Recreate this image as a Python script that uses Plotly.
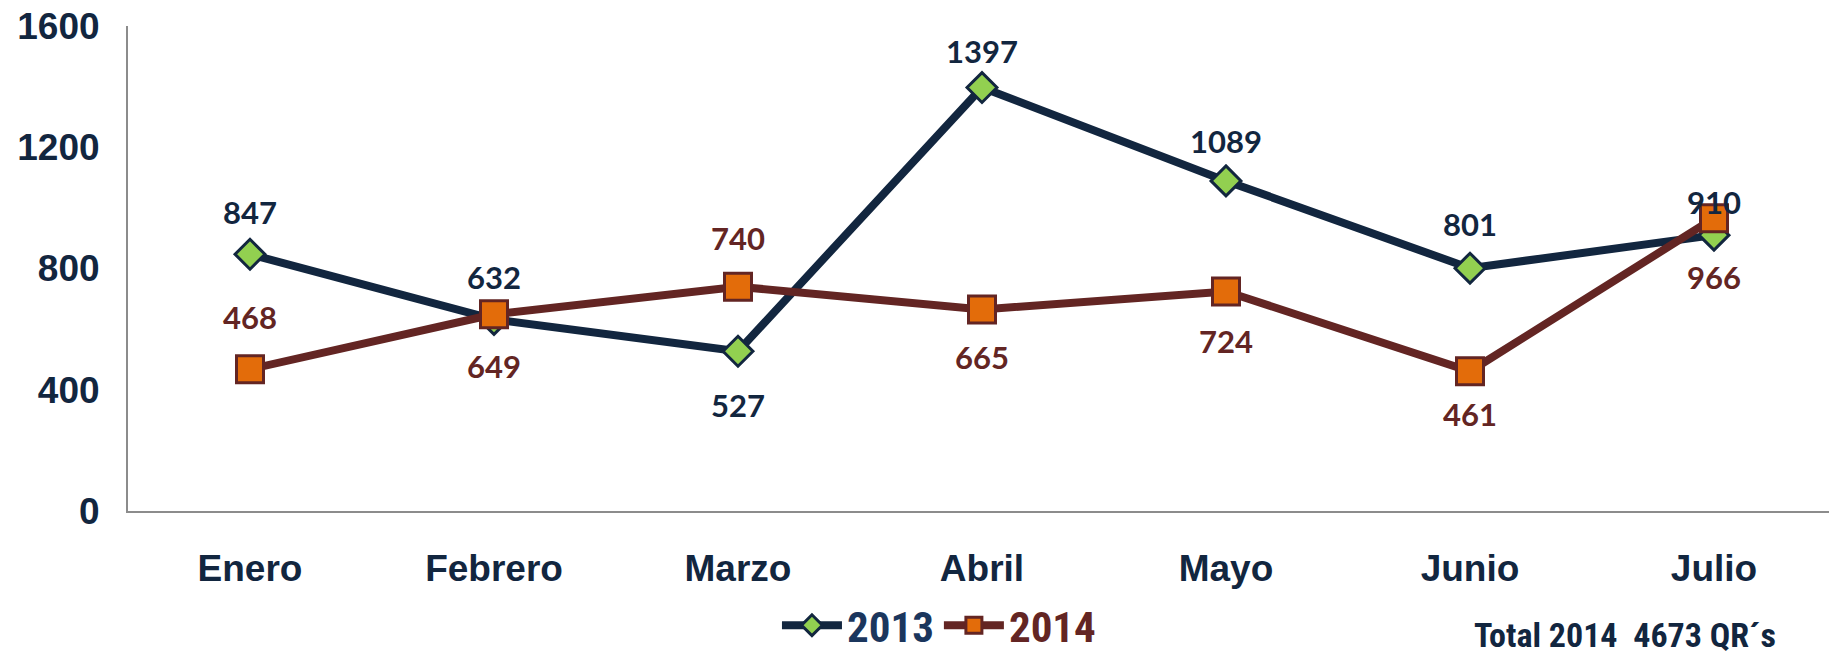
import plotly.graph_objects as go

# data
meses = ["Enero", "Febrero", "Marzo", "Abril", "Mayo", "Junio", "Julio"]
qr_2013 = [847, 632, 527, 1397, 1089, 801, 910]
qr_2014 = [468, 649, 740, 665, 724, 461, 966]
y_ticks = [0, 400, 800, 1200, 1600]
total_text = "Total 2014  4673 QR´s"

# label offsets in px (positive = above the point)
shift_2013 = [42, 42, -54, 37, 40, 44, 33]
shift_2014 = [52, -52, 49, -48, -49, -43, -59]

navy = "#12263F"
brown = "#632523"
narrow = "Liberation Sans Narrow, Roboto Condensed, Arial Narrow, Roboto, sans-serif"

fig = go.Figure()

fig.add_trace(go.Scatter(
    x=meses, y=qr_2013, mode="lines+markers",
    name="<span style='color:#1B365D'>2013</span>",
    line=dict(color=navy, width=8),
    marker=dict(symbol="diamond", size=23, color="#92D050", line=dict(color=navy, width=3)),
))
fig.add_trace(go.Scatter(
    x=meses, y=qr_2014, mode="lines+markers",
    name="<span style='color:#632523'>2014</span>",
    line=dict(color=brown, width=8),
    marker=dict(symbol="square", size=27, color="#E36C0A", line=dict(color=brown, width=3)),
))

# data labels
for vals, shifts, col in [(qr_2013, shift_2013, navy), (qr_2014, shift_2014, brown)]:
    for m, v, s in zip(meses, vals, shifts):
        fig.add_annotation(
            x=m, y=v, text=str(v), showarrow=False, yshift=s,
            xanchor="center", yanchor="middle",
            font=dict(family="Lato, sans-serif", size=31, color=col, weight="bold"),
        )

# total note, relative to the plot domain (plot: x 120..1828, y 18..503 in the figure)
fig.add_annotation(
    x=(1617 - 120) / 1708, y=(503 - 627) / 485, xref="paper", yref="paper", text=total_text,
    showarrow=False, xanchor="center", yanchor="middle",
    font=dict(family=narrow, size=34, color=navy, weight="bold"),
)

# the page body adds an 8px margin, so the figure is 8px smaller than the window
fig.update_layout(
    width=1829, height=647,
    paper_bgcolor="white", plot_bgcolor="white",
    margin=dict(l=120, r=1, t=18, b=144, autoexpand=False),
    font=dict(family="Liberation Sans, Arial, sans-serif", color=navy),
    legend=dict(
        orientation="h", xref="container", yref="container",
        x=0.509, xanchor="center", y=0.046, yanchor="middle",
        font=dict(family=narrow, size=43, weight="bold"),
        itemwidth=60, tracegroupgap=0,
    ),
    xaxis=dict(
        range=[-0.5, 6.5], showgrid=False, showline=True, linecolor="#8C8C8C", linewidth=2,
        ticks="", ticklabelstandoff=24, automargin=False,
        tickfont=dict(size=37, color=navy, weight="bold"),
    ),
    yaxis=dict(
        range=[0, 1600], tickvals=y_ticks, showgrid=False, zeroline=False,
        showline=True, linecolor="#8C8C8C", linewidth=2,
        ticks="", ticklabelstandoff=19, automargin=False, ticklabeloverflow="allow",
        tickfont=dict(size=37, color=navy, weight="bold"),
    ),
)

fig.write_html("out.html")
